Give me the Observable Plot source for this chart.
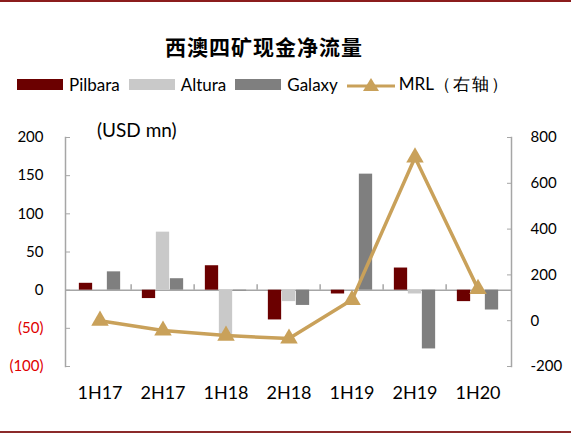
<!DOCTYPE html>
<html>
<head>
<meta charset="utf-8">
<script src="https://cdn.jsdelivr.net/npm/d3@7"></script>
<script src="https://cdn.jsdelivr.net/npm/@observablehq/plot@0.6"></script>
<style>
  html, body { margin: 0; background: #fff; overflow: hidden; }
  #wrap { position: relative; width: 571px; height: 434px; overflow: hidden; font-family: Lato, "Noto Sans", sans-serif; }
  #topline { position: absolute; left: 0; right: 0; top: 0; height: 2px; background: #8b1c1c; }
  #botline { position: absolute; left: 0; right: 0; top: 431px; height: 2px; background: #8b2a2a; }
  #title { position: absolute; left: 165px; top: 31px; font-family: "Noto Sans CJK SC"; font-weight: bold; font-size: 21px; letter-spacing: 1px; color: #000; white-space: nowrap; }
  #legend { position: absolute; left: 17px; top: 73px; display: flex; align-items: center; font-size: 17px; color: #000; white-space: nowrap; }
  .item { display: flex; align-items: center; margin-right: 9px; }
  .sw { width: 46px; height: 11px; margin-right: 6px; }
  .cjk { letter-spacing: 2px; }
  #unit { position: absolute; left: 97px; top: 118px; font-size: 19px; color: #000; }
  #chart { position: absolute; left: 0; top: 105px; }
</style>
</head>
<body>
<div id="wrap">
  <div id="topline"></div>
  <div id="title">西澳四矿现金净流量</div>
  <div id="legend"></div>
  <div id="unit">(USD mn)</div>
  <div id="chart"></div>
  <div id="botline"></div>
</div>
<script>
// half-year periods
const periods = ["1H17", "2H17", "1H18", "2H18", "1H19", "2H19", "1H20"];
// net cash flow, USD mn (left axis)
const pilbara = [9, -11, 32, -39, -5, 29, -15];
const altura = [0, 76, -62, -15, 0, -5, 0];
const galaxy = [24, 15, -1, -20, 152, -77, -26];
// MRL, right axis
const mrl = [0, -43, -65, -78, 91, 713, 139];

const leftTicks = [-100, -50, 0, 50, 100, 150, 200];
const rightTicks = [-200, 0, 200, 400, 600, 800];

const colors = { Pilbara: "#6b0000", Altura: "#c9c9c9", Galaxy: "#7f7f7f", MRL: "#c9a15a" };
const axisGray = "#a6a6a6";

// right axis [-200, 800] onto left axis [-100, 200]
const toLeft = v => (v + 200) * 0.3 - 100;
const toRight = v => Math.round((v + 100) / 0.3 - 200);

const rows = periods.map((p, i) => ({ period: p, pilbara: pilbara[i], altura: altura[i], galaxy: galaxy[i], mrl: toLeft(mrl[i]) }));

// legend
const legend = document.getElementById("legend");
[["Pilbara", "bar"], ["Altura", "bar"], ["Galaxy", "bar"], ["MRL", "line"]].forEach(([name, kind]) => {
  const item = document.createElement("div");
  item.className = "item";
  if (kind === "bar") {
    item.innerHTML = `<div class="sw" style="background:${colors[name]}"></div><span>${name}</span>`;
  } else {
    item.innerHTML = `<svg width="48" height="16" style="margin-right:4px"><line x1="0" y1="9" x2="48" y2="9" stroke="${colors.MRL}" stroke-width="3"/><path d="M24,1 L32,14 L16,14 Z" fill="${colors.MRL}"/></svg><span>MRL<span class="cjk">（右轴）</span></span>`;
  }
  legend.appendChild(item);
});

const W = 571, H = 315;
const mL = 65, mR = 60;
const bw = (W - mL - mR) / periods.length;
const barW = 14;
const inset = (bw - barW) / 2;

const chart = Plot.plot({
  width: W,
  height: H,
  marginLeft: mL,
  marginRight: mR,
  marginTop: 32,
  marginBottom: 54,
  style: { fontFamily: "Lato, 'Noto Sans', sans-serif", fontSize: "15px", color: "#000", background: "transparent" },
  x: { type: "band", domain: periods, padding: 0, label: null },
  y: { domain: [-100, 200], label: null },
  marks: [
    Plot.ruleY([0], { stroke: axisGray, strokeWidth: 1.5 }),
    Plot.ruleX(periods.slice(1), { x: d => d, dx: -bw / 2, y1: 0, y2: 7, stroke: axisGray, strokeWidth: 1.5 }),
    Plot.barY(rows, { x: "period", y: "pilbara", fill: colors.Pilbara, insetLeft: inset, insetRight: inset, dx: -barW }),
    Plot.barY(rows, { x: "period", y: "altura", fill: colors.Altura, insetLeft: inset, insetRight: inset }),
    Plot.barY(rows, { x: "period", y: "galaxy", fill: colors.Galaxy, insetLeft: inset, insetRight: inset, dx: barW }),
    Plot.line(rows, { x: "period", y: "mrl", stroke: colors.MRL, strokeWidth: 3.5 }),
    Plot.dot(rows, { x: "period", y: "mrl", symbol: "triangle", r: 6.5, fill: colors.MRL }),
    Plot.frame({ anchor: "left", stroke: axisGray, strokeWidth: 1.5 }),
    Plot.frame({ anchor: "right", stroke: axisGray, strokeWidth: 1.5 }),
    Plot.axisY(leftTicks.filter(d => d >= 0), { anchor: "left", tickSize: -5, tickPadding: 27, stroke: axisGray, label: null }),
    Plot.axisY(leftTicks.filter(d => d < 0), { anchor: "left", tickSize: -5, tickPadding: 27, stroke: axisGray, fill: "#e00000", tickFormat: d => `(${-d})`, label: null }),
    Plot.axisY(rightTicks.map(toLeft), { anchor: "right", tickSize: -5, tickPadding: 24, stroke: axisGray, tickFormat: toRight, label: null }),
    Plot.axisX({ tickSize: 0, tickPadding: 20, fontSize: 18, label: null })
  ]
});
document.getElementById("chart").appendChild(chart);
</script>
</body>
</html>
